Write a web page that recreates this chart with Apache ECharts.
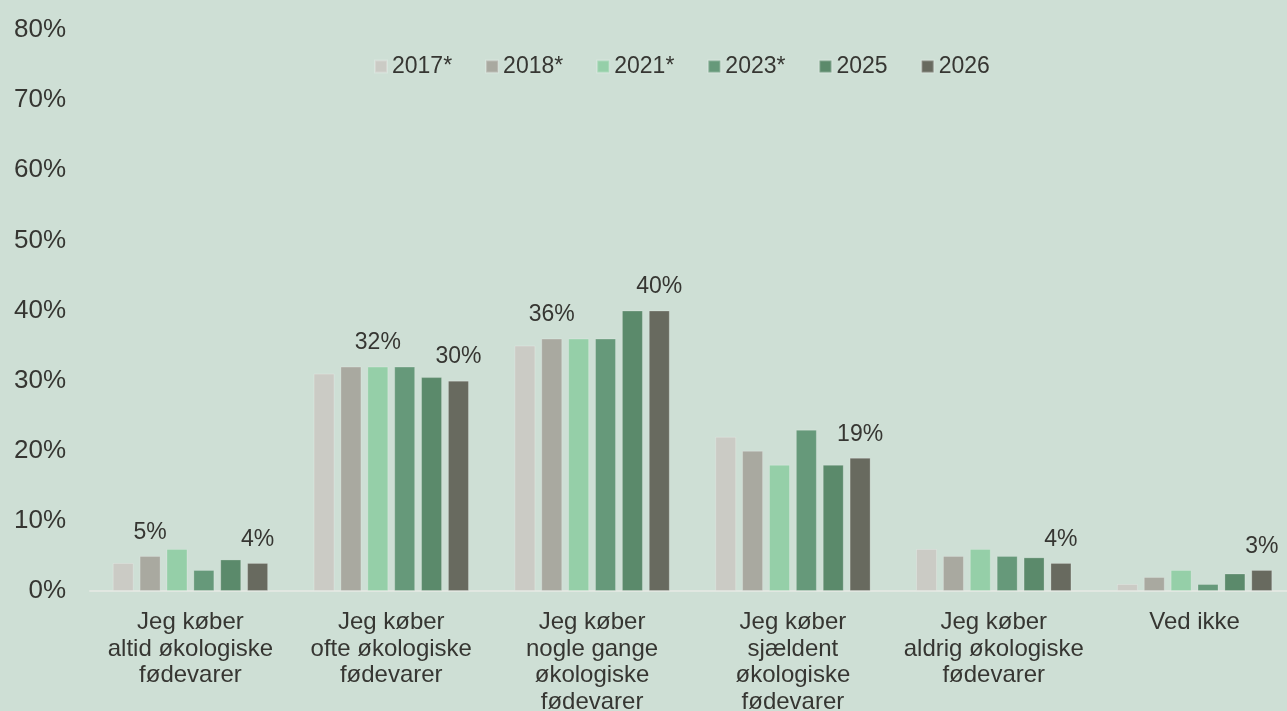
<!DOCTYPE html>
<html>
<head>
<meta charset="utf-8">
<script src="https://cdn.jsdelivr.net/npm/echarts@6/dist/echarts.min.js"></script>
<style>
  html, body { margin: 0; padding: 0; background: #cedfd5; }
  #chart { width: 1287px; height: 711px; }
</style>
</head>
<body>
<div id="chart"></div>
<script>
  // svarkategorier (x-akse)
  var categories = [
    "Jeg køber\naltid økologiske\nfødevarer",
    "Jeg køber\nofte økologiske\nfødevarer",
    "Jeg køber\nnogle gange\nøkologiske\nfødevarer",
    "Jeg køber\nsjældent\nøkologiske\nfødevarer",
    "Jeg køber\naldrig økologiske\nfødevarer",
    "Ved ikke"
  ];
  var years = ["2017*", "2018*", "2021*", "2023*", "2025", "2026"];

  var v2017 = [4, 31, 35, 22, 6, 1];
  var v2018 = [5, 32, 36, 20, 5, 2];
  var v2021 = [6, 32, 36, 18, 6, 3];
  var v2023 = [3, 32, 36, 23, 5, 1];
  var v2025 = [4.5, 30.5, 40, 18, 4.8, 2.5];
  var v2026 = [4, 30, 40, 19, 4, 3];

  // hvilke kategorier der har en værdi-etiket, pr. serie
  var labelled2018 = [0, 2];
  var labelled2021 = [1];
  var labelled2026 = [0, 1, 2, 3, 4, 5];

  var yTicks = [0, 10, 20, 30, 40, 50, 60, 70, 80];

  var colors = ["#cbcbc5", "#a9a9a0", "#95cfa8", "#66997a", "#5b8a6b", "#686a5f"];
  var values = [v2017, v2018, v2021, v2023, v2025, v2026];
  var labelled = [[], labelled2018, labelled2021, [], [], labelled2026];

  var txt = "#363632";
  var font = "'Liberation Sans', Arial, sans-serif";

  var series = years.map(function (y, i) {
    return {
      name: y,
      type: "bar",
      barWidth: 21,
      barGap: "28%",
      itemStyle: {
        color: colors[i],
        borderColor: "rgba(255,255,255,0.22)",
        borderWidth: 1
      },
      label: {
        show: false,
        position: "top",
        distance: 12,
        color: txt,
        fontSize: 23,
        fontFamily: font,
        formatter: "{c}%"
      },
      data: values[i].map(function (v, j) {
        return labelled[i].indexOf(j) >= 0 ? { value: v, label: { show: true } } : v;
      })
    };
  });

  var chart = echarts.init(document.getElementById("chart"));
  chart.setOption({
    backgroundColor: "#cedfd5",
    animation: false,
    textStyle: { fontFamily: font },
    legend: {
      data: years,
      left: 369,
      top: 50,
      itemWidth: 12,
      itemHeight: 12,
      itemGap: 33,
      icon: "rect",
      selectedMode: false,
      textStyle: { color: txt, fontSize: 23, fontFamily: font }
    },
    grid: {
      left: 90,
      right: -8,
      top: 30,
      bottom: 120,
      containLabel: false,
      outerBoundsMode: "none"
    },
    xAxis: {
      type: "category",
      data: categories,
      axisTick: { show: false },
      axisLine: { lineStyle: { color: "#e1e7e1", width: 2 } },
      axisLabel: {
        interval: 0,
        margin: 18,
        color: txt,
        fontSize: 24,
        lineHeight: 26.7,
        fontFamily: font
      }
    },
    yAxis: {
      type: "value",
      min: yTicks[0],
      max: yTicks[yTicks.length - 1],
      interval: 10,
      splitLine: { show: false },
      axisLine: { show: false },
      axisTick: { show: false },
      axisLabel: {
        margin: 24,
        color: txt,
        fontSize: 26,
        fontFamily: font,
        formatter: "{value}%"
      }
    },
    series: series
  });
</script>
</body>
</html>
